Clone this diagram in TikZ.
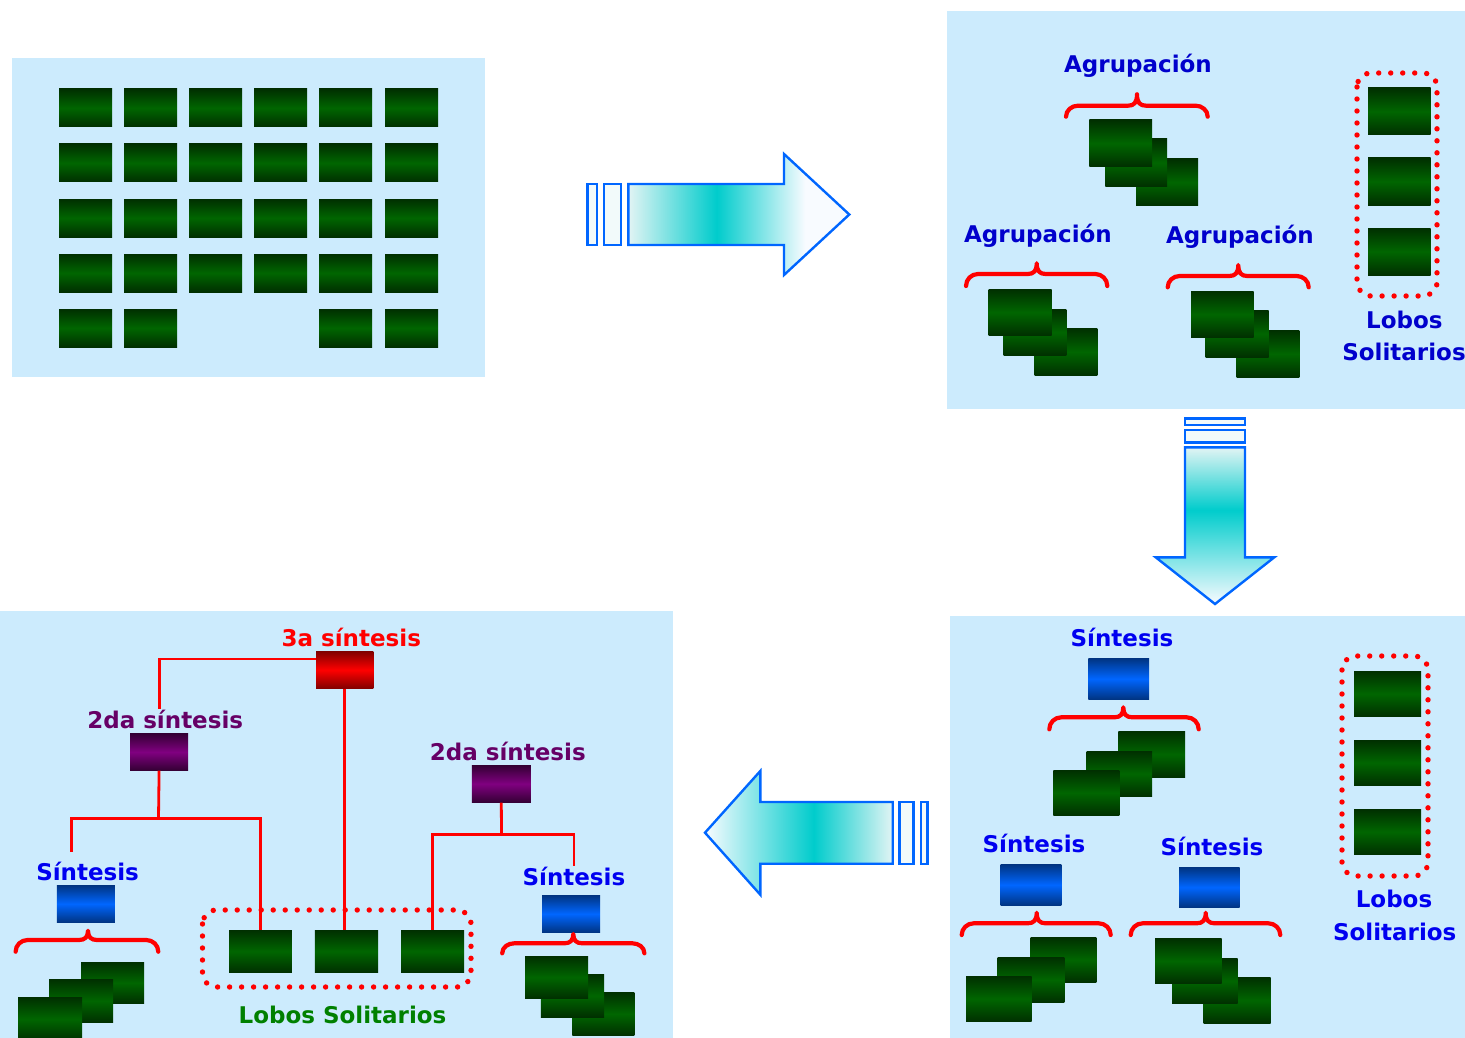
\documentclass[tikz,border=0pt]{standalone}
\usepackage{fontspec}
\setmainfont{DejaVu Sans}
\usetikzlibrary{calc}

\definecolor{panelbg}{HTML}{CCEBFD}
\definecolor{gdark}{HTML}{002F00}
\definecolor{gmid}{HTML}{006600}
\definecolor{bdark}{HTML}{003380}
\definecolor{bmid}{HTML}{0066FF}
\definecolor{rdark}{HTML}{800000}
\definecolor{rmid}{HTML}{FF0000}
\definecolor{pdark}{HTML}{330033}
\definecolor{pmid}{HTML}{800080}
\definecolor{arrowline}{HTML}{0066FF}
\definecolor{cyanmid}{HTML}{00CCCC}
\definecolor{arrL}{HTML}{E2F4F4}
\definecolor{arrW}{HTML}{F8FBFF}
\definecolor{barfill}{HTML}{F2FAFA}
\definecolor{agblue}{HTML}{0000CC}
\definecolor{sinblue}{HTML}{0000F0}
\definecolor{purptext}{HTML}{660066}
\definecolor{greentext}{HTML}{008000}
\definecolor{redtext}{HTML}{FF0000}

\pgfdeclarehorizontalshading{arrRshade}{100bp}{color(0bp)=(arrL); color(25bp)=(arrL); color(45bp)=(cyanmid); color(65bp)=(arrW); color(75bp)=(arrW); color(100bp)=(arrW)}
\pgfdeclareverticalshading{arrDshade}{100bp}{color(0bp)=(arrW); color(25bp)=(arrW); color(55bp)=(cyanmid); color(75bp)=(arrL); color(100bp)=(arrL)}
\pgfdeclarehorizontalshading{arrLshade}{100bp}{color(0bp)=(arrW); color(25bp)=(arrW); color(54bp)=(cyanmid); color(75bp)=(arrL); color(100bp)=(arrL)}

\newcommand\bx[6]{\node[#2, minimum width={(#5)-(#3)}, minimum height={(#6)-(#4)}] (#1) at ({((#3)+(#5))/2},{((#4)+(#6))/2}) {};}
\newcommand\rbr[6]{% x0 x1 xc ytip yh yend
  \draw[bracestyle] (#1,#6) to[out=90,in=180] ({#1+12},#5) -- ({#3-9},#5)
    .. controls ({#3-3},#5) and (#3,{#5-3}) .. (#3,#4)
    .. controls (#3,{#5-3}) and ({#3+3},#5) .. ({#3+9},#5)
    -- ({#2-12},#5) to[out=0,in=90] (#2,#6);}

\tikzset{
  x=1pt, y=-1pt,
  panel/.style={fill=panelbg, draw=none},
  gbox/.style={top color=gdark, bottom color=gdark, middle color=gmid, inner sep=0pt, outer sep=0pt, draw=none},
  bbox/.style={top color=bdark, bottom color=bdark, middle color=bmid, inner sep=0pt, outer sep=0pt, draw=none},
  rbox/.style={top color=rdark, bottom color=rdark, middle color=rmid, inner sep=0pt, outer sep=0pt, draw=none},
  pbox/.style={top color=pdark, bottom color=pdark, middle color=pmid, inner sep=0pt, outer sep=0pt, draw=none},
  lab/.style={font=\fontsize{23}{27}\selectfont\bfseries, inner sep=1pt, anchor=base},
  bracestyle/.style={draw=red, line width=4.2pt, line cap=round, line join=round},
  dotrect/.style={draw=red, line width=5.4pt, line cap=round, dash pattern=on 0pt off 12pt, rounded corners=14pt},
  arrowstyle/.style={draw=arrowline, line width=2.4pt, line join=miter},
  rline/.style={draw=red, line width=2.8pt},
}

\begin{document}
\begin{tikzpicture}
\useasboundingbox (0,0) rectangle (1465,1038);
\clip (0,0) rectangle (1465,1038);

% ---------------- Panel 1 ----------------
\fill[panel] (12,58) rectangle (485,377);
\foreach \r/\y in {1/89,2/144,3/199,4/254,5/309}{
  \foreach \c/\x in {1/59,2/124,3/189,4/254,5/319,6/385}{
    \pgfmathtruncatemacro\skipit{(\r==5 && (\c==3 || \c==4)) ? 1 : 0}
    \ifnum\skipit=0
      \bx{g\r\c}{gbox}{\x}{\y}{\x+53}{\y+38}
    \fi
  }
}

% ---------------- Arrow 1 (right) ----------------
\draw[arrowstyle, fill=barfill] (587.3,184) rectangle (596.7,245);
\draw[arrowstyle, fill=barfill] (604,184) rectangle (621,245);
\draw[arrowstyle, shade, shading=arrRshade] (628.3,184) -- (784,184) -- (784,154) -- (849.3,214.5) -- (784,275) -- (784,245) -- (628.3,245) -- cycle;

% ---------------- Panel 2 ----------------
\fill[panel] (947,11) rectangle (1465,408.5);
\node[lab, text=agblue] (agT) at (1138,72.7) {Agrupación};
\node[lab, text=agblue] (agL) at (1038,242.7) {Agrupación};
\node[lab, text=agblue] (agR) at (1240,243.3) {Agrupación};
\rbr{1066}{1207.7}{1137}{94.3}{105.7}{116.7}
\rbr{966}{1107.3}{1036.7}{263.3}{274}{286}
\rbr{1167.7}{1308.7}{1238.3}{265}{276}{287.3}
\bx{a1c}{gbox}{1136}{159}{1198}{205.7}
\bx{a1b}{gbox}{1105.3}{139}{1167}{186.7}
\bx{a1a}{gbox}{1089.3}{120}{1152}{166.7}
\bx{a2c}{gbox}{1034.7}{328}{1097.3}{375.7}
\bx{a2b}{gbox}{1003.7}{309}{1066.3}{355.7}
\bx{a2a}{gbox}{988.7}{289}{1051.7}{335.7}
\bx{a3c}{gbox}{1236.7}{330}{1299.3}{377.7}
\bx{a3b}{gbox}{1205.7}{310}{1268.7}{357.7}
\bx{a3a}{gbox}{1191}{291}{1253.7}{337.7}
\draw[dotrect] (1357,73) rectangle (1437,296);
\bx{lw1}{gbox}{1368}{88}{1430.7}{135}
\bx{lw2}{gbox}{1368}{158}{1430.7}{205}
\bx{lw3}{gbox}{1368}{228}{1430.7}{275}
\node[lab, text=agblue] (loA1) at (1404.3,328.3) {Lobos};
\node[lab, text=agblue] (loA2) at (1404,360.7) {Solitarios};

% ---------------- Arrow 2 (down) ----------------
\draw[arrowstyle, fill=barfill] (1185,418.3) rectangle (1245,425);
\draw[arrowstyle, fill=barfill] (1185,430) rectangle (1245,442.3);
\draw[arrowstyle, shade, shading=arrDshade] (1185,447.3) -- (1245,447.3) -- (1245,557.3) -- (1274.3,557.3) -- (1215,604) -- (1155.7,557.3) -- (1185,557.3) -- cycle;

% ---------------- Panel 3 ----------------
\fill[panel] (950,616) rectangle (1465,1038);
\node[lab, text=sinblue] (sinT) at (1122,646.7) {Síntesis};
\node[lab, text=sinblue] (sinL) at (1034,852.7) {Síntesis};
\node[lab, text=sinblue] (sinR) at (1212,855) {Síntesis};
\bx{bT}{bbox}{1088.3}{658}{1149}{699.7}
\bx{bL}{bbox}{1000.7}{864}{1061.3}{905.7}
\bx{bR}{bbox}{1179}{867}{1239.7}{907.7}
\rbr{1049.3}{1198.7}{1123.3}{707.3}{717.3}{729.3}
\rbr{961.7}{1110.7}{1036.7}{912.7}{923.3}{935}
\rbr{1130.7}{1280.3}{1205.7}{912.7}{923.3}{935}
\bx{s1a}{gbox}{1118.3}{731}{1185}{777.7}
\bx{s1b}{gbox}{1086.7}{751}{1152}{796.7}
\bx{s1c}{gbox}{1053.3}{770}{1119.3}{815.7}
\bx{s2a}{gbox}{1030.7}{937}{1096.3}{982.7}
\bx{s2b}{gbox}{997.7}{957}{1064.3}{1002.7}
\bx{s2c}{gbox}{966}{976}{1031.7}{1021.7}
\bx{s3c}{gbox}{1203.7}{977}{1270.7}{1023.7}
\bx{s3b}{gbox}{1172}{958.3}{1237.7}{1003.7}
\bx{s3a}{gbox}{1155}{938.3}{1221.7}{983.7}
\draw[dotrect] (1342,656) rectangle (1428,876);
\bx{lx1}{gbox}{1354}{671}{1421}{716.7}
\bx{lx2}{gbox}{1354}{740}{1421}{785.7}
\bx{lx3}{gbox}{1354}{809}{1421}{854.7}
\node[lab, text=sinblue] (loB1) at (1394,907.7) {Lobos};
\node[lab, text=sinblue] (loB2) at (1394.7,940) {Solitarios};

% ---------------- Arrow 3 (left) ----------------
\draw[arrowstyle, fill=barfill] (899.3,802) rectangle (913.3,863.7);
\draw[arrowstyle, fill=barfill] (920.7,802) rectangle (927.3,863.7);
\draw[arrowstyle, shade, shading=arrLshade] (892.7,802) -- (760.3,802) -- (760.3,771) -- (705,832.7) -- (760.3,894.7) -- (760.3,863.7) -- (892.7,863.7) -- cycle;

% ---------------- Panel 4 ----------------
\fill[panel] (0,611) rectangle (673,1038);
\node[lab, text=redtext] (t3a) at (351.3,646) {3a síntesis};
\node[lab, text=purptext] (l2L) at (165.2,728.3) {2da síntesis};
\node[lab, text=purptext] (l2R) at (507.8,760) {2da síntesis};
\node[lab, text=sinblue] (sL) at (87.6,880) {Síntesis};
\node[lab, text=sinblue] (sR) at (573.9,885.7) {Síntesis};
\node[lab, text=greentext] (loC) at (342.5,1023.3) {Lobos Solitarios};
\bx{red3}{rbox}{316}{651.3}{373.4}{688.7}
\bx{pL}{pbox}{130}{733.3}{188.2}{770.7}
\bx{pR}{pbox}{471.8}{765}{530.8}{802.7}
\bx{bl4}{bbox}{56.8}{885}{114.9}{922.7}
\bx{br4}{bbox}{542}{895}{600.2}{932.7}
\rbr{15.6}{158.3}{88}{930.7}{940}{951.7}
\rbr{502.2}{644.4}{573.3}{934}{943.3}{953.3}
\draw[dotrect] (202.5,910) rectangle (471,987);
\bx{lz1}{gbox}{229}{930}{291.8}{972.7}
\bx{lz2}{gbox}{314.8}{930}{378.1}{972.7}
\bx{lz3}{gbox}{401.1}{930}{464}{972.7}
\bx{q1a}{gbox}{81.1}{962}{144}{1003.7}
\bx{q1b}{gbox}{49}{979}{113.2}{1022.7}
\bx{q1c}{gbox}{18.2}{997}{82}{1041}
\bx{q2c}{gbox}{572.4}{992}{634.4}{1035.7}
\bx{q2b}{gbox}{540.8}{974}{604}{1017.3}
\bx{q2a}{gbox}{525.1}{956}{588}{998.7}

% connectors
\coordinate (jL) at (158.5,818.3);
\coordinate (jLa) at (71.6,851.7);
\coordinate (jR) at (501.5,834.3);
\draw[rline] (red3.west |- 0,659) -| (pL.north |- l2L.north);
\draw[rline] (red3.south) -- (red3.south |- lz2.north);
\draw[rline] (pL.south) -- (jL);
\draw[rline] (jLa) |- (jL) -| (lz1.north);
\draw[rline] (pR.south) -- (jR);
\draw[rline] (lz3.north) |- (jR) -| (sR.north);
\end{tikzpicture}
\end{document}
